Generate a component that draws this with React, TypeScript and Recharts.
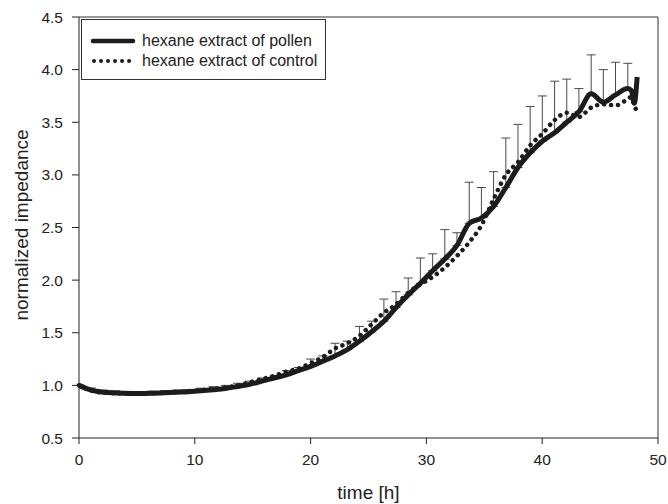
import { LineChart, Line, XAxis, YAxis, ErrorBar, Legend, ReferenceLine } from "recharts";

const hours = [
  0, 1.05, 2.11, 3.16, 4.21, 5.27, 6.32, 7.37, 8.42, 9.48, 10.53, 11.58, 12.64, 13.69, 14.74, 15.8, 16.85,
  17.9, 18.95, 20.01, 21.06, 22.11, 23.17, 24.22, 25.27, 26.33, 27.38, 28.43, 29.48, 30.54, 31.59, 32.64,
  33.7, 34.75, 35.8, 36.86, 37.91, 38.96, 40.01, 41.07, 42.12, 43.17, 44.23, 45.28, 46.33, 47.39, 47.7,
  47.95, 48.2
];

const pollen = [
  1.0, 0.955, 0.935, 0.928, 0.923, 0.922, 0.925, 0.93, 0.935, 0.94, 0.948, 0.958, 0.97, 0.99, 1.01, 1.04,
  1.07, 1.1, 1.14, 1.18, 1.23, 1.28, 1.34, 1.42, 1.51, 1.61, 1.74, 1.86, 1.97, 2.09, 2.2, 2.33, 2.54, 2.59,
  2.7, 2.88, 3.07, 3.21, 3.32, 3.4, 3.5, 3.6, 3.77, 3.69, 3.76, 3.82, 3.8, 3.68, 3.93
];

const control = [
  1.0, 0.95, 0.93, 0.925, 0.92, 0.92, 0.925, 0.93, 0.94, 0.945, 0.955, 0.965, 0.98, 1.0, 1.03, 1.06, 1.09,
  1.13, 1.16, 1.21, 1.27, 1.35, 1.4, 1.47, 1.58, 1.69, 1.77, 1.88, 1.96, 2.03, 2.12, 2.23, 2.36, 2.52, 2.77,
  3.0, 3.12, 3.28, 3.39, 3.52, 3.59, 3.55, 3.64, 3.67, 3.66, 3.72, 3.74, 3.66, 3.6
];

// upper SD of the pollen curve, null where no bar is drawn
const pollenSD = [
  null, 0.02, 0.02, 0.02, 0.02, 0.02, 0.02, 0.02, 0.02, 0.02, 0.025, 0.03, 0.03, 0.03, 0.03, 0.03, 0.02,
  0.04, 0.03, 0.07, 0.05, 0.12, 0.08, 0.14, 0.1, 0.21, 0.15, 0.16, 0.24, 0.16, 0.28, 0.12, 0.39, 0.29, 0.33,
  0.47, 0.41, 0.44, 0.43, 0.49, 0.41, 0.22, 0.37, 0.31, 0.31, 0.24, null, null, null
];

const xTicks = [0, 10, 20, 30, 40, 50];
const yTicks = [0.5, 1.0, 1.5, 2.0, 2.5, 3.0, 3.5, 4.0, 4.5];

const rows = hours.map((t, i) => ({
  t,
  pollen: pollen[i],
  control: control[i],
  sd: pollenSD[i] == null ? undefined : [0, pollenSD[i]]
}));

const FONT = "'Liberation Sans', Arial, sans-serif";
const INK = "#1c1c1c";

const renderLegend = () => (
  <div
    style={{
      width: 245,
      height: 61,
      border: "1px solid #333",
      background: "#fff",
      fontFamily: FONT,
      fontSize: 16,
      color: "#222",
      boxSizing: "border-box"
    }}
  >
    <div style={{ display: "flex", alignItems: "center", height: 20, marginTop: 11 }}>
      <svg width={60} height={10}>
        <line x1={11} y1={5} x2={51} y2={5} stroke={INK} strokeWidth={4.5} strokeLinecap="round" />
      </svg>
      <span>hexane extract of pollen</span>
    </div>
    <div style={{ display: "flex", alignItems: "center", height: 20 }}>
      <svg width={60} height={10}>
        <line x1={12} y1={5} x2={50} y2={5} stroke={INK} strokeWidth={4} strokeLinecap="round" strokeDasharray="0.01 7" />
      </svg>
      <span>hexane extract of control</span>
    </div>
  </div>
);

export default function App() {
  return (
    <div style={{ position: "absolute", left: 0, top: 0, background: "#fff" }}>
      <LineChart width={668} height={504} data={rows} margin={{ top: 17, right: 10, bottom: 0, left: 0 }}>
        <XAxis
          dataKey="t"
          type="number"
          domain={[0, 50]}
          ticks={xTicks}
          height={66}
          tickSize={6}
          tickMargin={10}
          stroke="#222"
          tick={{ fill: "#222", fontSize: 15.5, fontFamily: FONT }}
          label={{
            content: () => (
              <text x={368.5} y={499} textAnchor="middle" fill="#222" fontSize={19} fontFamily={FONT}>
                time [h]
              </text>
            )
          }}
        />
        <YAxis
          type="number"
          domain={[0.5, 4.5]}
          ticks={yTicks}
          width={79}
          tickSize={7}
          tickMargin={9}
          stroke="#222"
          tickFormatter={(v: number) => v.toFixed(1)}
          tick={{ fill: "#222", fontSize: 15.5, fontFamily: FONT }}
          label={{
            content: () => (
              <text
                x={21}
                y={225}
                transform="rotate(-90, 21, 225)"
                textAnchor="middle"
                dominantBaseline="central"
                fill="#222"
                fontSize={19}
                fontFamily={FONT}
              >
                normalized impedance
              </text>
            )
          }}
        />
        <ReferenceLine y={4.5} stroke="#333" strokeWidth={1} />
        <ReferenceLine x={50} stroke="#333" strokeWidth={1} />
        <Line
          dataKey="pollen"
          type="monotone"
          stroke={INK}
          strokeWidth={5}
          strokeLinejoin="round"
          dot={false}
          isAnimationActive={false}
        >
          <ErrorBar dataKey="sd" direction="y" width={4.5} stroke="#4a4a4a" strokeWidth={1} />
        </Line>
        <Line
          dataKey="control"
          type="monotone"
          stroke={INK}
          strokeWidth={4.5}
          strokeLinecap="round"
          strokeDasharray="0.01 7"
          dot={false}
          isAnimationActive={false}
        />
        <Legend
          verticalAlign="middle"
          align="center"
          layout="horizontal"
          wrapperStyle={{ left: 81, top: 19, width: 245, height: 61 }}
          content={renderLegend}
        />
      </LineChart>
    </div>
  );
}
